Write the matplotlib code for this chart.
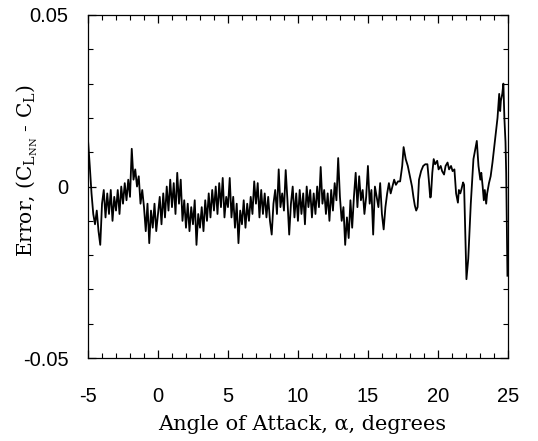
import matplotlib
matplotlib.use("Agg")
import matplotlib.pyplot as plt
from matplotlib.ticker import MultipleLocator, FixedLocator, FixedFormatter
import numpy as np

# noisy part, sampled every 1/8 degree from -5 to 16.875 (values in 1e-3)
noisy_start = -5.0
noisy_step = 0.125
noisy_err = [
    13.5, 6, -2, -8, -11, -7, -13, -17,       # -5
    -5, -1, -9, -2, -8, -1, -10, -3,          # -4
    -7, -1, -8, 0, -5, 1, -4, 2,              # -3
    -3, 11, 2, 5, 0, 3, -5, -1,               # -2
    -6, -13, -5, -16.5, -7, -12, -5, -13,     # -1
    -8, -3, -11, -2, -9, 0, -7, 2,            # 0
    -6, 1, -8, 4, -5, 2, -10, -4,             # 1
    -12, -5, -13, -6, -11, -4, -17, -8,       # 2
    -12, -6, -13, -4, -10, -2, -9, -1,        # 3
    -7, 0, -8, 1, -6, 2.5, -9, -3,            # 4
    -6, 2.5, -9, -3, -12, -5, -16.5, -7,      # 5
    -11, -4, -12, -5, -10, -3, -8, 1.5,       # 6
    -5, 1, -9, -1, -8, -2, -9, -3,            # 7
    -10, -14, -5, -1, -8, 5, -6, -2,          # 8
    -7, 4.8, -4, -14, -5, 0, -9, -2,          # 9
    -10, -1, -8, -2, -11, 0, -6, -1,          # 10
    -9, -2, -8, 0, -6, 5.7, -5, -1,           # 11
    -8, -2, -10, -1, -7, 1, -4, 8.3,          # 12
    -3, -10, -6, -17, -9, -15, -4, -12,       # 13
    -3, 4, -6, 3, -4, -1, -8, -3,             # 14
    6, -5, -1, -14, 0, -3, -6, 1,             # 15
    -8, -12.5, -6, -2, 1, -2, 0, 2,           # 16
]

# smoother part above 17 degrees (alpha, error in 1e-3)
smooth_alpha = [17.0, 17.15, 17.3, 17.45, 17.55, 17.7, 17.85, 18.0, 18.15,
                18.25, 18.35, 18.45, 18.55, 18.65, 18.8, 18.95, 19.1, 19.25,
                19.35, 19.45, 19.5, 19.6, 19.7, 19.8, 19.95, 20.05, 20.2,
                20.3, 20.44, 20.55, 20.69, 20.8, 20.94, 21.05, 21.18, 21.25,
                21.3, 21.43, 21.5, 21.6, 21.67, 21.8, 21.87, 22.04, 22.17,
                22.35, 22.54, 22.78, 22.9, 23.03, 23.1, 23.2, 23.28, 23.35,
                23.45, 23.52, 23.65, 23.77, 23.9, 24.01, 24.15, 24.26, 24.38,
                24.45, 24.5, 24.6, 24.68, 24.75, 24.83, 24.88, 24.97]
smooth_err = [0.5, 1.5, 1.5, 6, 11.5, 8, 6, 3, 0,
              -3, -5.5, -7, -6, 2, 4.5, 6, 6.5, 6.5,
              2, -3.2, -3, 4, 8, 6.5, 7.5, 5, 6,
              4.5, 3.5, 6, 7, 5, 6, 4.5, 5, 1,
              -2, -4.7, -1, -2, -1, 1.2, 0.5, -27, -21,
              -5, 8, 13.3, 6, 2, 4, 0, -4, -1,
              -5, -2, 1, 3, 7, 11, 16, 20, 27,
              22, 25, 27, 30, 20, 13, 4, -26]

x_ticks = [-5, 0, 5, 10, 15, 20, 25]
x_labels = ["-5", "0", "5", "10", "15", "20", "25"]
y_ticks = [-0.05, 0, 0.05]
y_labels = ["-0.05", "0", "0.05"]

noisy_alpha = noisy_start + noisy_step * np.arange(len(noisy_err))
alpha = np.concatenate([noisy_alpha, smooth_alpha])
error = np.concatenate([noisy_err, smooth_err]) / 1000.0

fig = plt.figure(figsize=(5.38, 4.41), dpi=100)
ax = fig.add_axes([0.1636, 0.188, 0.7804, 0.778])

ax.plot(alpha, error, color="black", lw=1.3)

ax.set_xlim(-5, 25)
ax.set_ylim(-0.05, 0.05)
ax.xaxis.set_major_locator(FixedLocator(x_ticks))
ax.xaxis.set_major_formatter(FixedFormatter(x_labels))
ax.xaxis.set_minor_locator(MultipleLocator(1))
ax.yaxis.set_major_locator(FixedLocator(y_ticks))
ax.yaxis.set_major_formatter(FixedFormatter(y_labels))
ax.yaxis.set_minor_locator(MultipleLocator(0.01))
ax.tick_params(which="both", direction="in", top=True, right=True,
               labelsize=14.5)
ax.tick_params(axis="x", which="major", pad=21)
ax.tick_params(axis="y", which="major", pad=14)
ax.tick_params(which="major", length=6, width=0.9)
ax.tick_params(which="minor", length=3.5, width=0.8)
for lab in ax.get_xticklabels() + ax.get_yticklabels():
    lab.set_family("Liberation Sans")
for sp in ax.spines.values():
    sp.set_linewidth(0.9)

ax.set_xlabel("Angle of Attack, \u03b1, degrees", family="DejaVu Serif",
              fontsize=15)
ax.xaxis.set_label_coords(0.51, -0.166)
ax.set_ylabel(r"Error, ($\mathregular{C_{L_{NN}}}$ - $\mathregular{C_L}$)",
              family="DejaVu Serif", fontsize=14.5)
ax.yaxis.set_label_coords(-0.115, 0.548)

fig.savefig("out.png", dpi=100)
